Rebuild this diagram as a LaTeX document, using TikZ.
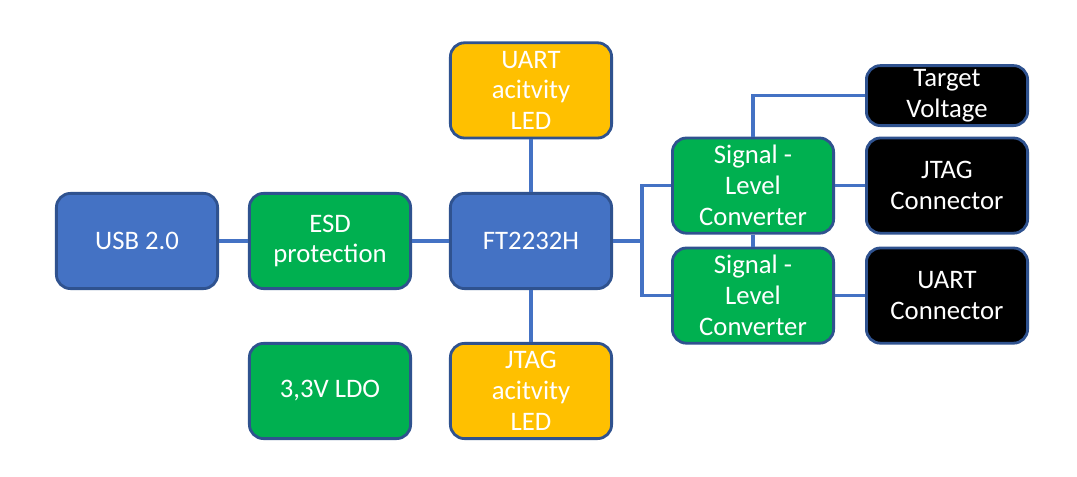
\documentclass[tikz,border=0pt]{standalone}
\usepackage{fontspec}
\setmainfont{Carlito}
\usepackage{xcolor}
\definecolor{dbblue}{HTML}{4472C4}
\definecolor{dbedge}{HTML}{2F528F}
\definecolor{dbgreen}{HTML}{00B050}
\definecolor{dborange}{HTML}{FFC000}
\usetikzlibrary{positioning, calc}

\begin{document}
\begin{tikzpicture}[
  blk/.style={rectangle, rounded corners=10pt, draw=dbedge, line width=2pt,
              minimum width=4.03cm, minimum height=2.38cm, text=white,
              font=\fontsize{19}{22}\selectfont, align=center, inner sep=0pt},
  core/.style={blk, fill=dbblue},
  proc/.style={blk, fill=dbgreen},
  led/.style={blk, fill=dborange},
  conn/.style={blk, fill=black},
  wire/.style={draw=dbblue, line width=2.2pt}
]
\fill[white] (0,0) rectangle (26.925,-11.925);

% left chain
\node[core] (usb) at (3.425,-6.025) {USB 2.0};
\node[proc] (esd) at (8.25,-6.025) {ESD\\protection};
\node[core] (ft) at (13.275,-6.025) {FT2232H};
\node[proc] (ldo) at (8.25,-9.775) {3,3V LDO};

% activity LEDs
\node[led] (ledu) at (13.275,-2.26) {UART\\acitvity\\LED};
\node[led] (ledj) at (13.275,-9.775) {JTAG\\acitvity\\LED};

% level converters
\node[proc] (slc1) at (18.825,-4.64) {Signal -\\Level\\Converter};
\node[proc] (slc2) at (18.825,-7.39) {Signal -\\Level\\Converter};

% target side
\node[conn, minimum height=1.5cm] (tv) at (23.675,-2.39) {Target\\Voltage};
\node[conn] (jtag) at (23.675,-4.64) {JTAG\\Connector};
\node[conn] (uart) at (23.675,-7.39) {UART\\Connector};

% wires
\coordinate (split) at (16.05,-6.025);
\draw[wire] (usb.east) -- (esd.west);
\draw[wire] (esd.east) -- (ft.west);
\draw[wire] (ft.north) -- (ledu.south);
\draw[wire] (ft.south) -- (ledj.north);
\draw[wire] (ft.east) -- (split);
\draw[wire] (split) |- (slc1.west);
\draw[wire] (split) |- (slc2.west);
\draw[wire] (slc1.south) -- (slc2.north);
\draw[wire] (slc1.north) |- (tv.west);
\draw[wire] (slc1.east) -- (jtag.west);
\draw[wire] (slc2.east) -- (uart.west);
\end{tikzpicture}
\end{document}
